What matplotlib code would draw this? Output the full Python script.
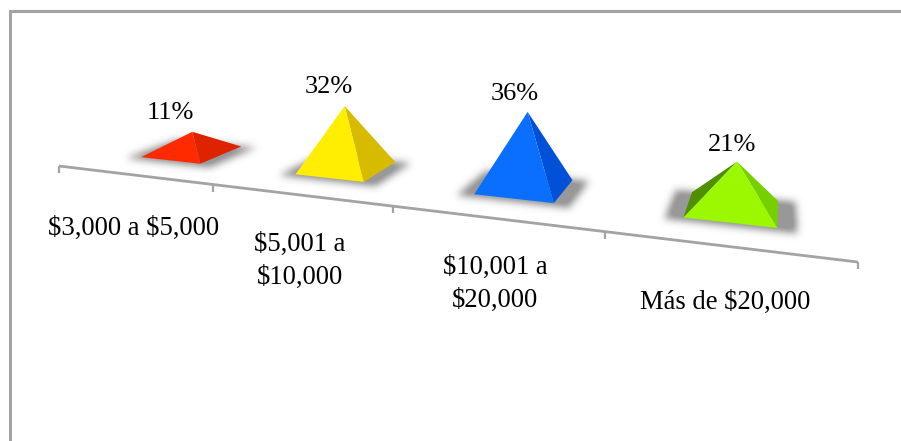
"""
Pirámides 3D por rango de ingreso, dibujadas sobre un plano en perspectiva.
"""

import numpy as np
import matplotlib
matplotlib.use('Agg')
import matplotlib.pyplot as plt
from matplotlib.patches import Polygon
from matplotlib.path import Path

categorias = ['$3,000 a $5,000', '$5,001 a\n$10,000', '$10,001 a\n$20,000', 'Más de $20,000']
valores = [11, 32, 36, 21]
color_frente = ['#FF2A00', '#FFEE00', '#0A6EFF', '#9CF800']
color_derecha = ['#DF2300', '#D6BB00', '#0050D8', '#76D000']
color_izquierda = ['#A81A00', '#A89300', '#003C9E', '#4F8F00']

# posiciones de los textos en pixeles
POS_VALOR = [(170, 113), (329, 87), (515, 94), (732, 145)]
POS_CATEGORIA = [(134, 228), (300, 261), (495, 284), (725, 302)]

# ajuste lateral de la cima de cada piramide
CIMA_DX = [0, -2, 3, 5]

GRIS = '#A3A3A3'
FUENTE = 'Liberation Serif'
ANCHO, ALTO = 901, 441

# homografia del plano: origen del eje, puntos de fuga y pesos
ORIGEN = (59.0, 166.0)
FUGA_U = (-1979.0, -79.0)
FUGA_W = (785.0, -82.0)
LAMBDA_U = -0.0704
LAMBDA_W = 0.19
ESCALA_ALTURA = 1.92

# base de cada piramide en unidades del plano
MEDIO_ANCHO = 0.2
W_FRENTE = 0.305
W_FONDO = 0.705


def proyecta(u, w, h=0.0):
    den = 1 + LAMBDA_U * u + LAMBDA_W * w
    x = (ORIGEN[0] + LAMBDA_U * u * FUGA_U[0] + LAMBDA_W * w * FUGA_W[0]) / den
    y = (ORIGEN[1] + LAMBDA_U * u * FUGA_U[1] + LAMBDA_W * w * FUGA_W[1]) / den
    return x, y - h * ESCALA_ALTURA / den


def visible(a, b, c):
    return (b[0] - a[0]) * (c[1] - a[1]) - (b[1] - a[1]) * (c[0] - a[0]) > 0


def desenfoca(mascara, sigma):
    r = int(3 * sigma)
    t = np.arange(-r, r + 1)
    nucleo = np.exp(-t ** 2 / (2 * sigma ** 2))
    nucleo /= nucleo.sum()
    mascara = np.apply_along_axis(lambda f: np.convolve(f, nucleo, mode='same'), 0, mascara)
    return np.apply_along_axis(lambda f: np.convolve(f, nucleo, mode='same'), 1, mascara)


def dibuja_sombras(ax):
    # todas las sombras van en una sola capa desenfocada
    yy, xx = np.mgrid[0:ALTO, 0:ANCHO]
    puntos = np.column_stack([xx.ravel() + 0.5, yy.ravel() + 0.5])
    mascara = np.zeros((ALTO, ANCHO))
    for i in range(len(valores)):
        c = i + 0.5
        esquinas = [
            proyecta(c - 0.28, W_FRENTE - 0.03),
            proyecta(c + 0.28, W_FRENTE - 0.03),
            proyecta(c + 0.28, W_FONDO + 0.03),
            proyecta(c - 0.28, W_FONDO + 0.03),
        ]
        esquinas = [(x, y + 1.0) for x, y in esquinas]
        dentro = Path(esquinas).contains_points(puntos).reshape(ALTO, ANCHO)
        mascara = np.maximum(mascara, dentro.astype(float))
    mascara = desenfoca(mascara, 3.8)
    capa = np.zeros((ALTO, ANCHO, 4))
    capa[..., :3] = 0.5
    capa[..., 3] = np.clip(mascara * 1.15, 0, 1) * 0.8
    ax.imshow(capa, extent=(0, ANCHO, ALTO, 0), aspect='auto', interpolation='nearest', zorder=2)


def dibuja_piramide(ax, i, valor):
    c = i + 0.5
    fi = proyecta(c - MEDIO_ANCHO, W_FRENTE)
    fd = proyecta(c + MEDIO_ANCHO, W_FRENTE)
    td = proyecta(c + MEDIO_ANCHO, W_FONDO)
    ti = proyecta(c - MEDIO_ANCHO, W_FONDO)
    cx, cy = proyecta(c, (W_FRENTE + W_FONDO) / 2, valor)
    cima = (cx + CIMA_DX[i], cy)

    # cara izquierda solo si la perspectiva la deja ver
    if visible(fi, ti, cima):
        ax.add_patch(Polygon([fi, ti, cima], closed=True, facecolor=color_izquierda[i],
                             edgecolor='none', zorder=3))
    ax.add_patch(Polygon([fd, td, cima], closed=True, facecolor=color_derecha[i],
                         edgecolor='none', zorder=3))
    ax.add_patch(Polygon([fi, fd, cima], closed=True, facecolor=color_frente[i],
                         edgecolor='none', zorder=4))


fig = plt.figure(figsize=(9.01, 4.41), dpi=100)
ax = fig.add_axes([0, 0, 1, 1])

# marco del grafico, abierto a la derecha y abajo
ax.plot([9.5, 9.5, 901], [441, 10.5, 10.5], color=GRIS, lw=2.2, solid_joinstyle='miter', zorder=1)

# eje con marcas
n = len(categorias)
x0, y0 = proyecta(0, 0)
x1, y1 = proyecta(n, 0)
ax.plot([x0, x1], [y0, y1], color=GRIS, lw=2.0, zorder=1, solid_capstyle='butt')
for u in range(n + 1):
    xt, yt = proyecta(u, 0)
    ax.plot([xt, xt], [yt, yt + 7], color=GRIS, lw=1.6, zorder=1, solid_capstyle='butt')

dibuja_sombras(ax)

for i, valor in enumerate(valores):
    dibuja_piramide(ax, i, valor)
    ax.text(POS_VALOR[i][0], POS_VALOR[i][1], f'{valor}%', ha='center', va='center',
            family=FUENTE, fontsize=19, color='black', zorder=5, parse_math=False)
    ax.text(POS_CATEGORIA[i][0], POS_CATEGORIA[i][1], categorias[i], ha='center', va='center',
            family=FUENTE, fontsize=19.2, color='black', linespacing=1.42, zorder=5, parse_math=False)

ax.set_xlim(0, ANCHO)
ax.set_ylim(ALTO, 0)
ax.axis('off')

fig.savefig('out.png', dpi=100, facecolor='white')
plt.close(fig)
